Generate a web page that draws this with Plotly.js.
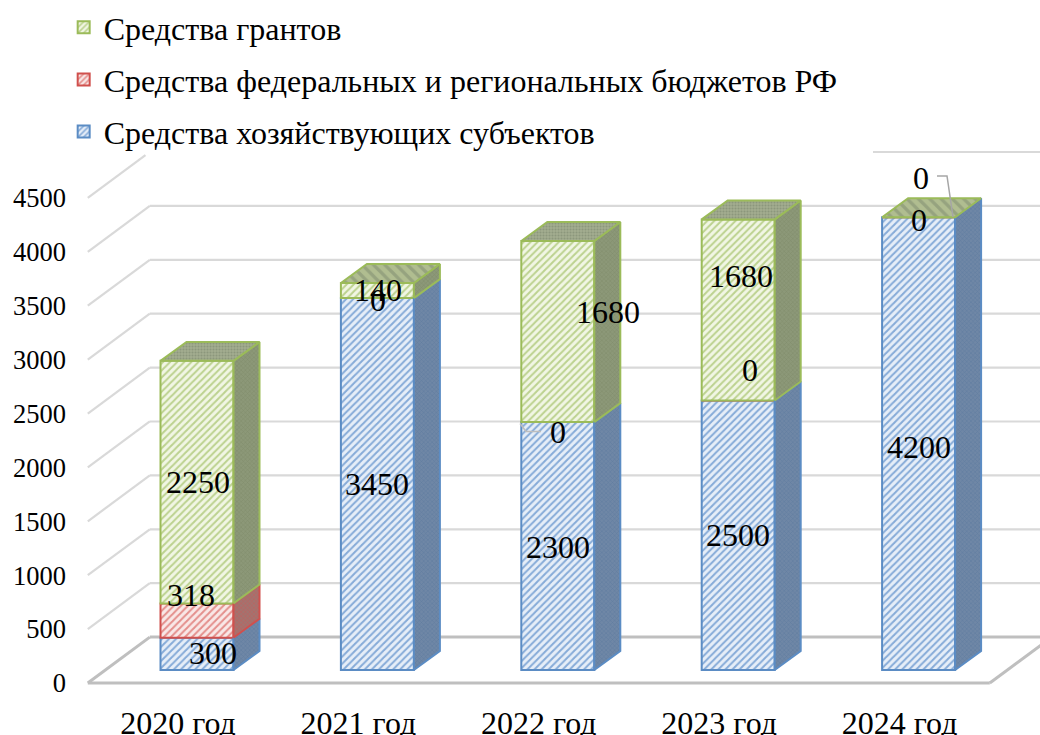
<!DOCTYPE html>
<html><head><meta charset="utf-8">
<script src="https://cdn.plot.ly/plotly-3.0.1.min.js"></script>
<style>html,body{margin:0;padding:0;background:#fff}</style></head>
<body><div id="chart" style="width:1040px;height:735px"></div>
<script>
const categories = ["2020 год","2021 год","2022 год","2023 год","2024 год"];
const seriesEntities = [300,3450,2300,2500,4200];
const seriesFederal = [318,0,0,0,0];
const seriesGrants = [2250,140,1680,1680,0];
const nameEntities = "Средства хозяйствующих субъектов";
const nameFederal = "Средства федеральных и региональных бюджетов РФ";
const nameGrants = "Средства грантов";
const yTicks = [0,500,1000,1500,2000,2500,3000,3500,4000,4500];

// projection of the pseudo-3D box (axis units)
const PX_X = 180.4, PX_Y = 0.108;
const wallDX = 62/PX_X, wallDY = 46/PX_Y;
const barDX = 26/PX_X, barDY = 19/PX_Y;
const barOffX = 19/PX_X, barOffY = 13/PX_Y;
const barW = 73/PX_X;
const xRange = [(80-178)/PX_X, (1040-178)/PX_X];
const yRange = [(683-695)/PX_Y, (683-140)/PX_Y];

const FONT = "'Liberation Serif','Times New Roman',serif";
const styles = {
  ent:{line:"#5b8cc4",bg:"#e6eef8",fg:"#86abd8",side:"#6f87a6",sideFg:"#5f7a9f"},
  fed:{line:"#d0504d",bg:"#f9e8e7",fg:"#e48f8c",side:"#a3736f",sideFg:"#c25f5c"},
  gra:{line:"#9bbb59",bg:"#f1f6e4",fg:"#bcd28f",side:"#8c9878",sideFg:"#7f8c6a"}
};
// pixel shifts of each data label from its segment centre, as placed in the picture
const shiftEntities = [[16,1],[0,0],[0,-1],[0,0],[0,-3]];
const shiftFederal = [[-6,26],[1,-2],[0,-10],[12,31],[0,-3]];
const shiftGrants = [[1,0],[1,1],[50,20],[3,34],[2,39]];

const series = [
  {name:nameEntities,vals:seriesEntities,st:styles.ent,shift:shiftEntities,rank:3},
  {name:nameFederal,vals:seriesFederal,st:styles.fed,shift:shiftFederal,rank:2},
  {name:nameGrants,vals:seriesGrants,st:styles.gra,shift:shiftGrants,rank:1}
];
const traces = [], annotations = [];
const cum = categories.map(()=>barOffY);
series.forEach((s,k)=>{
  const base = cum.slice();
  traces.push({type:"bar",name:s.name,legendgroup:"g"+k,legendrank:s.rank,
    x:categories.map((c,i)=>i+barOffX),y:s.vals,base:base,width:barW,
    marker:{color:s.st.bg,line:{color:s.st.line,width:2},
      pattern:{shape:"/",fgcolor:s.st.fg,bgcolor:s.st.bg,size:5,solidity:0.4,fillmode:"replace"}},
    hoverinfo:"skip"});
  s.vals.forEach((v,i)=>{
    const b=base[i], t=b+v;
    if(v>0){
      const x1=i+barOffX+barW/2;
      traces.push({type:"scatter",mode:"lines",showlegend:false,hoverinfo:"skip",
        x:[x1,x1+barDX,x1+barDX,x1,x1],y:[b,b+barDY,t+barDY,t,b],fill:"toself",
        fillcolor:s.st.side,fillpattern:{shape:"x",size:3,solidity:0.3,fgcolor:s.st.sideFg,bgcolor:s.st.side},
        line:{color:s.st.line,width:2}});
    }
    annotations.push({xref:"x",yref:"y",x:i+barOffX,y:(b+t)/2,text:String(v),showarrow:false,
      xshift:s.shift[i][0],yshift:s.shift[i][1],font:{family:FONT,size:32,color:"#000"}});
    cum[i]+=v;
  });
});
// caps
categories.forEach((c,i)=>{
  const x0=i+barOffX-barW/2,x1=i+barOffX+barW/2,t=cum[i];
  const coarse = seriesGrants[i]<=140;
  traces.push({type:"scatter",mode:"lines",showlegend:false,hoverinfo:"skip",
    x:[x0,x1,x1+barDX,x0+barDX,x0],y:[t,t,t+barDY,t+barDY,t],fill:"toself",
    fillcolor:"#98a582",
    fillpattern: coarse ? {shape:"\\",size:8,solidity:0.4,fgcolor:"#96a37f",bgcolor:"#b0bd90"}
                        : {shape:".",size:3,solidity:0.4,fgcolor:"#8c977c",bgcolor:"#a3ad90"},
    line:{color:styles.gra.line,width:2}});
});
// leader lines of two moved labels
const lx=(p)=>(p-178)/PX_X, ly=(p)=>(683-p)/PX_Y;
traces.push({type:"scatter",mode:"lines",showlegend:false,hoverinfo:"skip",
  x:[lx(520),lx(526),lx(541)],y:[ly(423),ly(431),ly(431)],line:{color:"#bdbdbd",width:1.5}});
traces.push({type:"scatter",mode:"lines",showlegend:false,hoverinfo:"skip",
  x:[lx(937),lx(947),lx(953)],y:[ly(175),ly(175),ly(216)],line:{color:"#a6a6a6",width:1.5}});

const shapes=[];
const seg=(x0,y0,x1,y1,color,w)=>shapes.push({type:"line",layer:"below",xref:"x",yref:"y",x0,y0,x1,y1,line:{color,width:w}});
const xL=-0.5,xR=4.5;
const topTick = yTicks[yTicks.length-1];
yTicks.forEach(v=>{
  if(v===0) return;
  // the legend box of the reference hides the upper end of the top tick's wall lines
  const f = v===topTick ? 0.93 : 1;
  seg(xL,v,xL+wallDX*f,v+wallDY*f,"#d9d9d9",2.2);
  seg(v===topTick?lx(873):xL+wallDX,v+wallDY,xR+wallDX,v+wallDY,"#d9d9d9",2.2);
});
seg(xL+wallDX,wallDY,xR+wallDX,wallDY,"#bfbfbf",3);
seg(xL,0,xL+wallDX,wallDY,"#bfbfbf",3);
seg(xR,0,xR+wallDX,wallDY,"#bfbfbf",3);
seg(xL,0,xR,0,"#bfbfbf",3);

const layout = {
  width:1040,height:735,paper_bgcolor:"#fff",plot_bgcolor:"rgba(0,0,0,0)",
  margin:{l:80,r:0,t:140,b:40,pad:0},
  barmode:"overlay",
  font:{family:FONT,size:26,color:"#000"},
  xaxis:{range:xRange,tickmode:"array",tickvals:categories.map((c,i)=>i),ticktext:categories,
    showgrid:false,zeroline:false,showline:false,ticks:"",ticklabelstandoff:6,fixedrange:true,automargin:false,
    tickfont:{family:FONT,size:32,color:"#000"}},
  yaxis:{range:yRange,tickmode:"array",tickvals:yTicks,
    showgrid:false,zeroline:false,showline:false,ticks:"",ticklabelstandoff:13,fixedrange:true,automargin:false,
    tickfont:{family:FONT,size:26.5,color:"#000"}},
  legend:{x:-0.017,xanchor:"left",y:1.254,yanchor:"top",bgcolor:"rgba(255,255,255,0)",borderwidth:0,
    traceorder:"grouped",tracegroupgap:7.5,itemwidth:30,
    font:{family:FONT,size:32,color:"#000"}},
  showlegend:true,shapes,annotations
};
Plotly.newPlot("chart",traces,layout,{displayModeBar:false,staticPlot:true});
</script></body></html>
